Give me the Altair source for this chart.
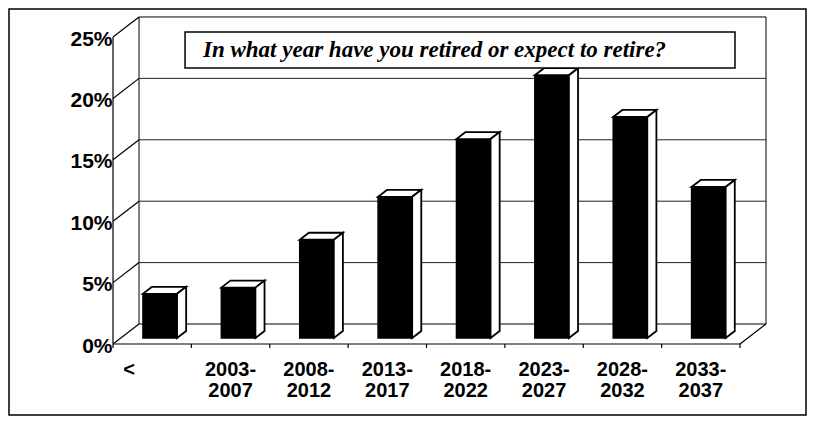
import altair as alt
import pandas as pd

# ---- data ----
categories = ["<", "2003-\n2007", "2008-\n2012", "2013-\n2017", "2018-\n2022",
              "2023-\n2027", "2028-\n2032", "2033-\n2037"]
values = [3.6, 4.1, 8.0, 11.5, 16.2, 21.4, 18.0, 12.3]
y_ticks = [0, 5, 10, 15, 20, 25]
title_text = "In what year have you retired or expect to retire?"

# ---- layout constants ----
W, H = 797, 406
X_DOMAIN = [-1.327, 8.842]
Y_DOMAIN = [-5.78, 27.28]
DX, DY = 0.332, 1.63      # depth of the 3-D box (data units)
F0, F1 = 0.30, 0.65       # bar depth range (fraction of box depth)
BAR_W = 0.435
N = len(categories)
YMAX = y_ticks[-1]

xs = alt.Scale(domain=X_DOMAIN, nice=False, zero=False)
ys = alt.Scale(domain=Y_DOMAIN, nice=False, zero=False)


def X(f):
    return alt.X(f, type="quantitative", scale=xs, axis=None)


def Y(f):
    return alt.Y(f, type="quantitative", scale=ys)


# ---- derived geometry ----
front = pd.DataFrame({"i": range(N), "v": values})
front["x0"] = front["i"] + 0.5 - BAR_W / 2 + F0 * DX
front["x1"] = front["x0"] + BAR_W
front["y0"] = F0 * DY
front["y1"] = front["v"] + F0 * DY

top_rows, side_rows = [], []
for i, v in enumerate(values):
    for f in (F0, F1):
        xa = i + 0.5 - BAR_W / 2 + f * DX
        top_rows.append({"i": i, "y": v + f * DY, "xa": xa, "xb": xa + BAR_W})
        side_rows.append({"i": i, "x": i + 0.5 + BAR_W / 2 + f * DX,
                          "ya": f * DY, "yb": v + f * DY})
top = pd.DataFrame(top_rows)
side = pd.DataFrame(side_rows)

wall = pd.DataFrame({"x": [DX], "x2": [N + DX], "y": [DY], "y2": [YMAX + DY]})
grid = pd.DataFrame({"y": [t + DY for t in y_ticks[1:-1]], "x": DX, "x2": N + DX})
lines = pd.DataFrame(
    [{"x": 0, "y": t, "x2": DX, "y2": t + DY} for t in y_ticks]
    + [{"x": 0, "y": 0, "x2": N, "y2": 0},
       {"x": N, "y": 0, "x2": N + DX, "y2": DY},
       {"x": 0, "y": 0, "x2": 0, "y2": YMAX}]
)
ticks = pd.DataFrame({"x": list(range(N + 1)), "y": 0.0, "y2": -0.33})
labels = pd.DataFrame({"x": [i + 0.5 for i in range(N)], "y": 0.0, "lab": categories})
yaxis_df = pd.DataFrame({"y": y_ticks})

# ---- layers ----
axis_layer = alt.Chart(yaxis_df).mark_point(opacity=0).encode(
    x=alt.X("y:Q", scale=xs, axis=None),
    y=alt.Y("y:Q", scale=ys, axis=alt.Axis(
        values=y_ticks, labelExpr="datum.value + '%'", offset=-104,
        domain=False, ticks=False, grid=False, labelPadding=1,
        labelFont="Liberation Sans", labelFontSize=21, labelFontWeight="bold",
        labelColor="black", labelOffset=2, title=None)),
)

wall_l = alt.Chart(wall).mark_rect(fill="white", stroke="black", strokeWidth=1).encode(
    x=X("x"), x2="x2", y=Y("y"), y2="y2")
grid_l = alt.Chart(grid).mark_rule(color="#222", strokeWidth=1).encode(
    x=X("x"), x2="x2", y=Y("y"))
lines_l = alt.Chart(lines).mark_rule(color="black", strokeWidth=1.2).encode(
    x=X("x"), x2="x2", y=Y("y"), y2="y2")
ticks_l = alt.Chart(ticks).mark_rule(color="black", strokeWidth=1.2).encode(
    x=X("x"), y=Y("y"), y2="y2")

front_l = alt.Chart(front).mark_rect(fill="black", stroke="black", strokeWidth=1.5).encode(
    x=X("x0"), x2="x1", y=Y("y0"), y2="y1")
top_l = alt.Chart(top).mark_area(orient="horizontal", fill="white", stroke="black",
                                 strokeWidth=1.8, opacity=1, fillOpacity=1).encode(
    y=Y("y"), x=X("xa"), x2="xb", detail="i:N")
side_l = alt.Chart(side).mark_area(orient="vertical", fill="white", stroke="black",
                                   strokeWidth=1.8, opacity=1, fillOpacity=1).encode(
    x=X("x"), y=Y("ya"), y2="yb", detail="i:N")

lab_main = alt.Chart(labels.iloc[1:]).mark_text(
    font="Liberation Sans", fontSize=20, fontWeight="bold", color="black",
    align="center", baseline="top", dy=16, lineBreak="\n", lineHeight=21).encode(
    x=X("x"), y=Y("y"), text="lab:N")
lab_first = alt.Chart(labels.iloc[:1]).mark_text(
    font="Liberation Sans", fontSize=20, fontWeight="bold", color="black",
    align="center", baseline="top", dy=16, dx=-23, lineBreak="\n", lineHeight=21).encode(
    x=X("x"), y=Y("y"), text="lab:N")

title_box = alt.Chart(pd.DataFrame({"x": [0.919], "x2": [7.936], "y": [22.48], "y2": [25.41]})
                      ).mark_rect(fill="white", stroke="black", strokeWidth=1.5).encode(
    x=X("x"), x2="x2", y=Y("y"), y2="y2")
title_l = alt.Chart(pd.DataFrame({"x": [1.148], "y": [23.94], "t": [title_text]})).mark_text(
    font="Liberation Serif", fontSize=23, fontWeight="bold", fontStyle="italic",
    color="black", align="left", baseline="middle").encode(
    x=X("x"), y=Y("y"), text="t:N")

chart = alt.layer(
    axis_layer, wall_l, grid_l, lines_l, ticks_l,
    front_l, top_l, side_l, title_box, title_l, lab_main, lab_first,
).properties(
    width=W, height=H, background="white",
    padding={"left": 1, "top": 1, "right": 1, "bottom": 1},
    autosize=alt.AutoSizeParams(type="none"),
).configure_view(stroke="black", strokeWidth=1.5)

chart.save("out.html", embed_options={"renderer": "svg", "actions": False})
